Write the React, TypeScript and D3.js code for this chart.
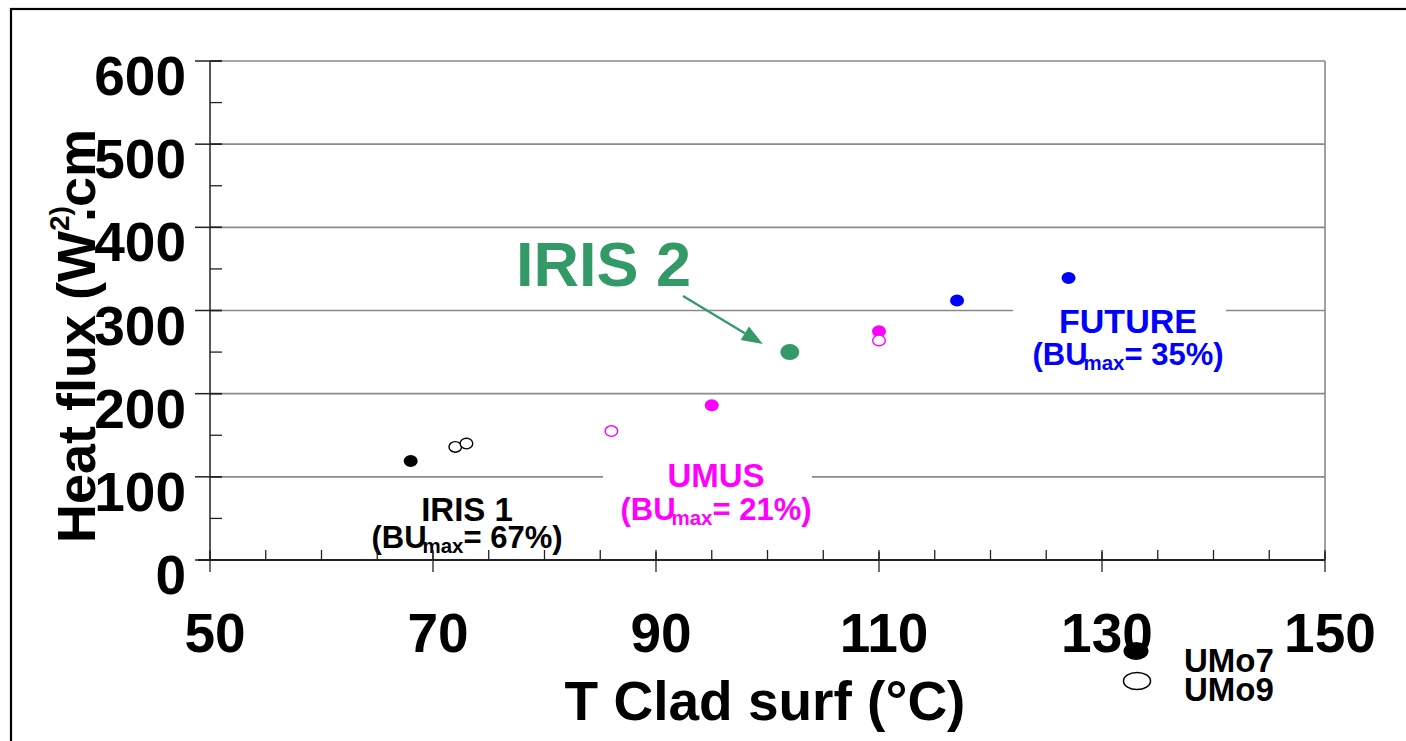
import React from "react";
import * as d3 from "d3";

// Measured points: cladding surface temperature (°C) vs heat flux (W/cm²)
type Pt = { t: number; q: number; group: string };

const umo7Points: Pt[] = [
  { t: 68, q: 119, group: "IRIS 1" },
  { t: 95, q: 186, group: "UMUS" },
  { t: 110, q: 275, group: "UMUS" },
  { t: 117, q: 312, group: "FUTURE" },
  { t: 127, q: 339, group: "FUTURE" },
];

const umo9Points: Pt[] = [
  { t: 72, q: 136, group: "IRIS 1" },
  { t: 73, q: 140, group: "IRIS 1" },
  { t: 86, q: 155, group: "UMUS" },
  { t: 110, q: 264, group: "UMUS" },
];

const iris2Point = { t: 102, q: 250 };

const xTicks = [50, 70, 90, 110, 130, 150];
const xMinorTicks = d3.range(50, 151, 5);
const yTicks = [0, 100, 200, 300, 400, 500, 600];
const yMinorTicks = d3.range(0, 601, 50);

const groupColor: Record<string, string> = {
  "IRIS 1": "#000000",
  UMUS: "#FF00FF",
  FUTURE: "#0000FF",
  "IRIS 2": "#339966",
};

const FONT = "'Liberation Sans', Arial, Helvetica, sans-serif";

function BuLabel(props: {
  cx: number;
  y1: number;
  y2: number;
  title: string;
  pct: string;
  color: string;
  titleSize: number;
  size: number;
}) {
  const { cx, y1, y2, title, pct, color, titleSize, size } = props;
  return (
    <g fill={color} fontFamily={FONT} fontWeight="bold" textAnchor="middle">
      <text x={cx} y={y1} fontSize={titleSize}>
        {title}
      </text>
      <text x={cx} y={y2} fontSize={size}>
        (BU
        <tspan fontSize={size * 0.66} dx={-4} dy={5}>
          max
        </tspan>
        <tspan dy={-5}>{`= ${pct})`}</tspan>
      </text>
    </g>
  );
}

export default function App() {
  const width = 1406;
  const height = 741;
  const x = d3.scaleLinear().domain([50, 150]).range([210, 1325]);
  const y = d3.scaleLinear().domain([0, 600]).range([560, 61]);

  const [x0, x1] = x.range();
  const [y0, y1] = y.range();

  // arrow pointing at the IRIS 2 point
  const ax0 = 683;
  const ay0 = 296;
  const ax1 = x(iris2Point.t) - 27;
  const ay1 = y(iris2Point.q) - 8;
  const ang = Math.atan2(ay1 - ay0, ax1 - ax0);
  const hl = 21;
  const hw = 8;
  const bx = ax1 - hl * Math.cos(ang);
  const by = ay1 - hl * Math.sin(ang);
  const head = [
    [ax1, ay1],
    [bx + hw * Math.sin(ang), by - hw * Math.cos(ang)],
    [bx - hw * Math.sin(ang), by + hw * Math.cos(ang)],
  ]
    .map((p) => p.join(","))
    .join(" ");

  return (
    <svg
      width={width}
      height={height}
      style={{ position: "absolute", left: 0, top: 0, background: "#fff" }}
    >
      <rect x={0} y={0} width={width} height={height} fill="#fff" />
      {/* outer frame */}
      <rect x={11} y={9} width={1500} height={1000} fill="none" stroke="#000" strokeWidth={2.2} />

      {/* gridlines */}
      {yTicks
        .filter((t) => t > 0)
        .map((t) => (
          <line key={"g" + t} x1={x0} x2={x1} y1={y(t)} y2={y(t)} stroke="#8a8a8a" strokeWidth={1.6} />
        ))}
      <line x1={x1} x2={x1} y1={y1} y2={y0} stroke="#8a8a8a" strokeWidth={1.6} />

      {/* IRIS 1 annotation (sits under the axis ticks) */}
      <BuLabel cx={467} y1={521} y2={548} title="IRIS 1" pct="67%" color="#000" titleSize={33} size={31} />

      {/* axes */}
      <line x1={x0} x2={x0} y1={y1} y2={y0} stroke="#222" strokeWidth={1.5} />
      <line x1={x0 - 12} x2={x1} y1={y0} y2={y0} stroke="#222" strokeWidth={1.8} />
      {yMinorTicks.map((t) => (
        <line key={"ym" + t} x1={x0} x2={x0 + 12} y1={y(t)} y2={y(t)} stroke="#222" strokeWidth={1.3} />
      ))}
      {yTicks.map((t) => (
        <line key={"yM" + t} x1={x0 - 15} x2={x0 + 12} y1={y(t)} y2={y(t)} stroke="#222" strokeWidth={1.5} />
      ))}
      {xMinorTicks.map((t) => (
        <line key={"xm" + t} x1={x(t)} x2={x(t)} y1={y0 - 10} y2={y0} stroke="#222" strokeWidth={1.3} />
      ))}
      {xTicks.map((t) => (
        <line key={"xM" + t} x1={x(t)} x2={x(t)} y1={y0 - 8} y2={y0 + 12} stroke="#222" strokeWidth={1.3} />
      ))}

      {/* tick labels */}
      <g fontFamily={FONT} fontWeight="bold" fontSize={55} fill="#000">
        {yTicks.map((t) => (
          <text key={"yl" + t} x={186} y={y(t) + 34} textAnchor="end">
            {t}
          </text>
        ))}
        {xTicks.map((t) => (
          <text key={"xl" + t} x={x(t) + 5} y={652} textAnchor="middle">
            {t}
          </text>
        ))}
      </g>

      {/* axis titles */}
      <text
        fontFamily={FONT}
        fontWeight="bold"
        fontSize={54}
        fill="#000"
        transform="translate(95,543) rotate(-90)"
      >
        Heat flux (W
        <tspan fontSize={28} dy={-26}>
          2)
        </tspan>
        <tspan dy={26} dx={-16}>
          .cm
        </tspan>
      </text>
      <text x={765} y={720} fontFamily={FONT} fontWeight="bold" fontSize={55} textAnchor="middle" fill="#000">
        T Clad surf (°C)
      </text>

      {/* label boxes that mask the gridlines */}
      <rect x={603} y={455} width={209} height={75} fill="#fff" />
      <rect x={1013} y={302} width={213} height={70} fill="#fff" />
      <BuLabel cx={716} y1={487} y2={520} title="UMUS" pct="21%" color={groupColor.UMUS} titleSize={33} size={31} />
      <BuLabel cx={1128} y1={333} y2={365} title="FUTURE" pct="35%" color={groupColor.FUTURE} titleSize={34} size={31} />

      {/* IRIS 2 callout */}
      <text x={516} y={286} fontFamily={FONT} fontWeight="bold" fontSize={63} fill={groupColor["IRIS 2"]}>
        IRIS 2
      </text>
      <line x1={ax0} y1={ay0} x2={bx} y2={by} stroke={groupColor["IRIS 2"]} strokeWidth={2.2} />
      <polygon points={head} fill={groupColor["IRIS 2"]} />

      {/* data points */}
      {umo7Points.map((p, i) => (
        <ellipse key={"f" + i} cx={x(p.t)} cy={y(p.q)} rx={7} ry={6} fill={groupColor[p.group]} />
      ))}
      {umo9Points.map((p, i) => (
        <ellipse
          key={"o" + i}
          cx={x(p.t)}
          cy={y(p.q)}
          rx={6.3}
          ry={5.3}
          fill="#fff"
          stroke={groupColor[p.group]}
          strokeWidth={1.4}
        />
      ))}
      <ellipse cx={x(iris2Point.t)} cy={y(iris2Point.q)} rx={9.5} ry={8} fill={groupColor["IRIS 2"]} />

      {/* legend */}
      <ellipse cx={1136} cy={651} rx={12.5} ry={9} fill="#000" />
      <ellipse cx={1137} cy={681} rx={13.5} ry={8.5} fill="#fff" stroke="#000" strokeWidth={1.5} />
      <g fontFamily={FONT} fontWeight="bold" fontSize={33} fill="#000">
        <text x={1184} y={672}>UMo7</text>
        <text x={1184} y={701}>UMo9</text>
      </g>
    </svg>
  );
}
